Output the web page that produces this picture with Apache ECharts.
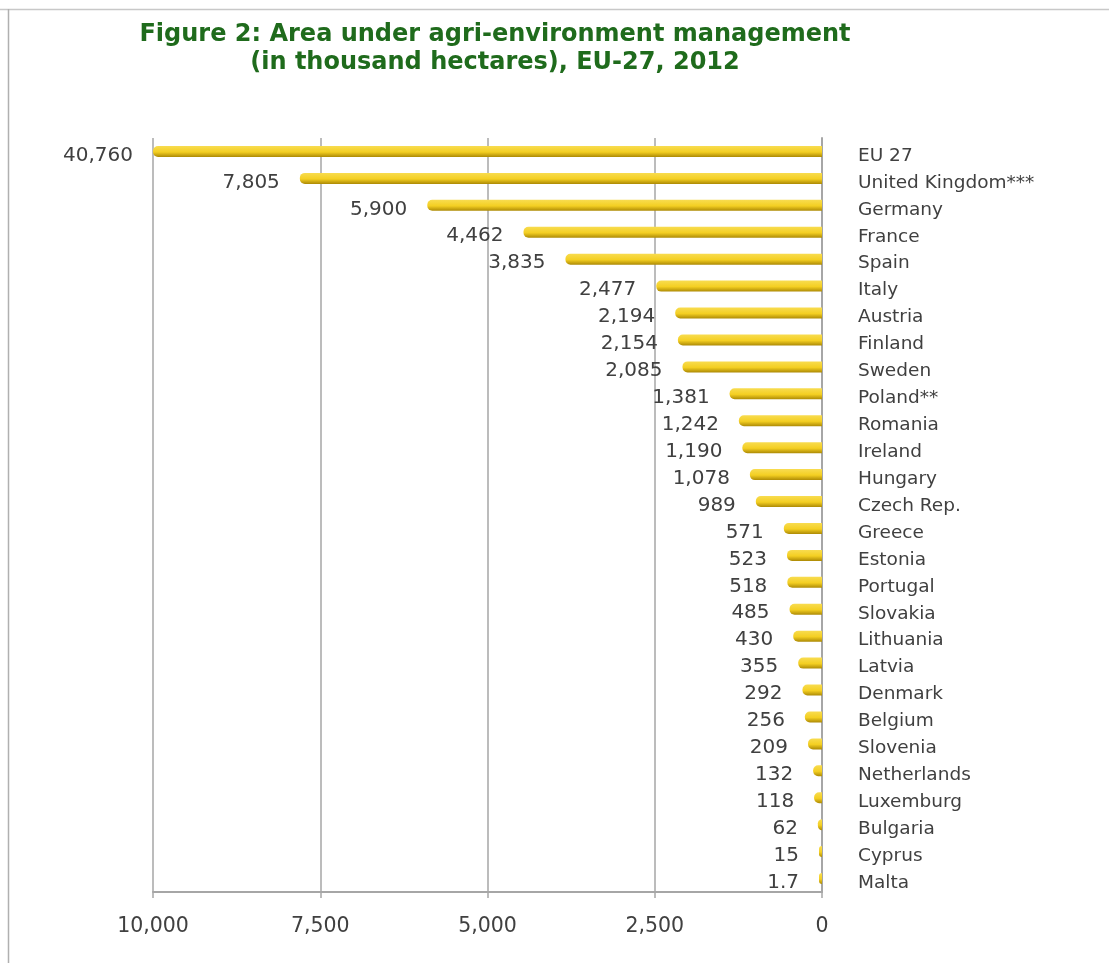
<!DOCTYPE html>
<html>
<head>
<meta charset="utf-8">
<script src="https://cdn.jsdelivr.net/npm/echarts@6/dist/echarts.min.js"></script>
<style>html,body{margin:0;padding:0;background:#fff;}#chart{width:1109px;height:963px;}</style>
</head>
<body>
<div id="chart"></div>
<script>
const categories = ['EU 27','United Kingdom***','Germany','France','Spain','Italy','Austria','Finland','Sweden','Poland**','Romania','Ireland','Hungary','Czech Rep.','Greece','Estonia','Portugal','Slovakia','Lithuania','Latvia','Denmark','Belgium','Slovenia','Netherlands','Luxemburg','Bulgaria','Cyprus','Malta'];
const values = [40760,7805,5900,4462,3835,2477,2194,2154,2085,1381,1242,1190,1078,989,571,523,518,485,430,355,292,256,209,132,118,62,15,1.7];
const axisMax = 10000;
const axisInterval = 2500;

const font = 'DejaVu Sans, Lato, sans-serif';
const chart = echarts.init(document.getElementById('chart'), null, {renderer:'canvas'});
chart.setOption({
  animation: false,
  backgroundColor: '#ffffff',
  title: {
    text: 'Figure 2: Area under agri-environment management\n(in thousand hectares), EU-27, 2012',
    left: 490, top: 16, textAlign: 'center',
    textStyle: {color:'#1f6b1c', fontFamily: font, fontWeight:'bold', fontSize: 24, lineHeight: 28, align:'center'}
  },
  graphic: [
    {type:'line', shape:{x1:0,y1:9.5,x2:1109,y2:9.5}, style:{stroke:'#c8c8c8', lineWidth:1.5}},
    {type:'line', shape:{x1:8.5,y1:9,x2:8.5,y2:963}, style:{stroke:'#b0b0b0', lineWidth:1.5}}
  ],
  grid: {left:153, right:287, top:138, bottom:71, containLabel:false},
  xAxis: {
    type:'value', inverse:true, min:0, max:axisMax, interval:axisInterval,
    axisLine:{show:true, lineStyle:{color:'#a6a6a6', width:2}},
    axisTick:{show:true, length:6, lineStyle:{color:'#a6a6a6', width:1.5}},
    axisLabel:{color:'#404040', fontFamily:font, fontSize:20.5, margin:24,
      formatter: v => v.toLocaleString('en-US')},
    splitLine:{show:true, lineStyle:{color:'#a6a6a6', width:1.5}}
  },
  yAxis: {
    type:'category', data:categories, inverse:true, position:'right',
    axisLine:{show:true, lineStyle:{color:'#a6a6a6', width:2}},
    axisTick:{show:false},
    axisLabel:{color:'#404040', fontFamily:font, fontSize:18.5, margin:36, align:'left',
      verticalAlign:'top', lineHeight:9}
  },
  series: [{
    type:'bar', data:values, barWidth:11, clip:true, barMinHeight:3,
    itemStyle:{
      color: new echarts.graphic.LinearGradient(0,0,0,1,[
        {offset:0, color:'#f8dc50'},
        {offset:0.55, color:'#f4cf22'},
        {offset:1, color:'#ad8a05'}
      ]),
      borderRadius:[5,0,0,5]
    },
    label:{
      show:true, position:'left', distance:20, color:'#404040', fontFamily:font, fontSize:20,
      offset:[0,4],
      formatter: p => p.value >= 1000 ? p.value.toLocaleString('en-US') : String(p.value)
    }
  }]
});
</script>
</body>
</html>
